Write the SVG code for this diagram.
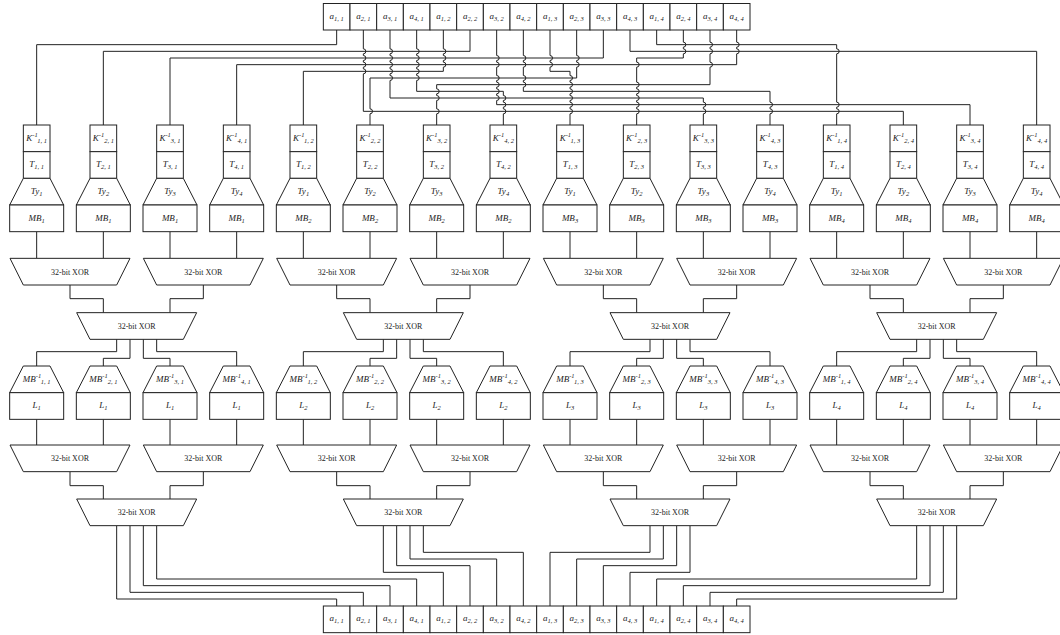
<svg xmlns="http://www.w3.org/2000/svg" width="1060" height="635" viewBox="0 0 1060 635">
<style>
.n{fill:#fff;stroke:#222;stroke-width:1}
.w{fill:none;stroke:#222;stroke-width:1}
.t{font-family:"Liberation Serif",serif;font-size:9px;font-style:italic;text-anchor:middle;fill:#222}
.s{font-size:6.5px}
.x{font-family:"Liberation Serif",serif;font-size:8px;text-anchor:middle;fill:#222}
</style>
<rect width="1060" height="635" fill="#fff"/>
<g id="connectors" class="w">
<!-- top routing -->
<path d="M336.67,30V44.67H36.67V125"/>
<path d="M470,30V51.33H103.33V125"/>
<path d="M603.33,30V58H170V125"/>
<path d="M736.67,30V42.17a2.5,2.5 0 0 1 0,5V48.83a2.5,2.5 0 0 1 0,5V64.67H236.67V125"/>
<path d="M443.33,30V48.83a2.5,2.5 0 0 1 0,5V55.5a2.5,2.5 0 0 1 0,5V62.17a2.5,2.5 0 0 1 0,5V71.33H303.33V125"/>
<path d="M576.67,30V55.5a2.5,2.5 0 0 1 0,5V62.17a2.5,2.5 0 0 1 0,5V78H370V108.83a2.5,2.5 0 0 1 0,5V125"/>
<path d="M710,30V42.17a2.5,2.5 0 0 1 0,5V48.83a2.5,2.5 0 0 1 0,5V62.17a2.5,2.5 0 0 1 0,5V84.67H436.67V88.83a2.5,2.5 0 0 1 0,5V95.5a2.5,2.5 0 0 1 0,5V108.83a2.5,2.5 0 0 1 0,5V125"/>
<path d="M416.67,30V48.83a2.5,2.5 0 0 1 0,5V55.5a2.5,2.5 0 0 1 0,5V62.17a2.5,2.5 0 0 1 0,5V68.83a2.5,2.5 0 0 1 0,5V75.5a2.5,2.5 0 0 1 0,5V91.33H503.33V95.5a2.5,2.5 0 0 1 0,5V102.17a2.5,2.5 0 0 1 0,5V108.83a2.5,2.5 0 0 1 0,5V125"/>
<path d="M550,30V55.5a2.5,2.5 0 0 1 0,5V62.17a2.5,2.5 0 0 1 0,5V71.33H570V75.5a2.5,2.5 0 0 1 0,5V82.17a2.5,2.5 0 0 1 0,5V88.83a2.5,2.5 0 0 1 0,5V95.5a2.5,2.5 0 0 1 0,5V102.17a2.5,2.5 0 0 1 0,5V108.83a2.5,2.5 0 0 1 0,5V125"/>
<path d="M683.33,30V42.17a2.5,2.5 0 0 1 0,5V48.83a2.5,2.5 0 0 1 0,5V58H636.67V62.17a2.5,2.5 0 0 1 0,5V82.17a2.5,2.5 0 0 1 0,5V88.83a2.5,2.5 0 0 1 0,5V95.5a2.5,2.5 0 0 1 0,5V102.17a2.5,2.5 0 0 1 0,5V108.83a2.5,2.5 0 0 1 0,5V125"/>
<path d="M390,30V48.83a2.5,2.5 0 0 1 0,5V55.5a2.5,2.5 0 0 1 0,5V62.17a2.5,2.5 0 0 1 0,5V68.83a2.5,2.5 0 0 1 0,5V75.5a2.5,2.5 0 0 1 0,5V98H703.33V102.17a2.5,2.5 0 0 1 0,5V108.83a2.5,2.5 0 0 1 0,5V125"/>
<path d="M523.33,30V55.5a2.5,2.5 0 0 1 0,5V62.17a2.5,2.5 0 0 1 0,5V75.5a2.5,2.5 0 0 1 0,5V82.17a2.5,2.5 0 0 1 0,5V91.33H770V102.17a2.5,2.5 0 0 1 0,5V108.83a2.5,2.5 0 0 1 0,5V125"/>
<path d="M656.67,30V44.67H836.67V48.83a2.5,2.5 0 0 1 0,5V102.17a2.5,2.5 0 0 1 0,5V108.83a2.5,2.5 0 0 1 0,5V125"/>
<path d="M363.33,30V48.83a2.5,2.5 0 0 1 0,5V55.5a2.5,2.5 0 0 1 0,5V62.17a2.5,2.5 0 0 1 0,5V68.83a2.5,2.5 0 0 1 0,5V111.33H903.33V125"/>
<path d="M496.67,30V55.5a2.5,2.5 0 0 1 0,5V62.17a2.5,2.5 0 0 1 0,5V75.5a2.5,2.5 0 0 1 0,5V82.17a2.5,2.5 0 0 1 0,5V88.83a2.5,2.5 0 0 1 0,5V95.5a2.5,2.5 0 0 1 0,5V104.67H970V125"/>
<path d="M630,30V51.33H1036.67V125"/>
<!-- MB to XOR1 -->
<path d="M36.67,231.67V258.33M103.33,231.67V258.33M170,231.67V258.33M236.67,231.67V258.33M303.33,231.67V258.33M370,231.67V258.33M436.67,231.67V258.33M503.33,231.67V258.33M570,231.67V258.33M636.67,231.67V258.33M703.33,231.67V258.33M770,231.67V258.33M836.67,231.67V258.33M903.33,231.67V258.33M970,231.67V258.33M1036.67,231.67V258.33"/>
<!-- XOR1 to XOR2 -->
<path d="M70,285V298.67H103.33V312.67M203.33,285V298.67H170V312.67M336.67,285V298.67H370V312.67M470,285V298.67H436.67V312.67M603.33,285V298.67H636.67V312.67M736.67,285V298.67H703.33V312.67M870,285V298.67H903.33V312.67M1003.33,285V298.67H970V312.67"/>
<!-- XOR2 to MB^-1 -->
<path d="M116.67,339.33V351.67H36.67V366M130,339.33V358.33H103.33V366M143.33,339.33V358.33H170V366M156.67,339.33V351.67H236.67V366"/>
<path d="M383.33,339.33V351.67H303.33V366M396.67,339.33V358.33H370V366M410,339.33V358.33H436.67V366M423.33,339.33V351.67H503.33V366"/>
<path d="M650,339.33V351.67H570V366M663.33,339.33V358.33H636.67V366M676.67,339.33V358.33H703.33V366M690,339.33V351.67H770V366"/>
<path d="M916.67,339.33V351.67H836.67V366M930,339.33V358.33H903.33V366M943.33,339.33V358.33H970V366M956.67,339.33V351.67H1036.67V366"/>
<!-- L to XOR3 -->
<path d="M36.67,419.33V445M103.33,419.33V445M170,419.33V445M236.67,419.33V445M303.33,419.33V445M370,419.33V445M436.67,419.33V445M503.33,419.33V445M570,419.33V445M636.67,419.33V445M703.33,419.33V445M770,419.33V445M836.67,419.33V445M903.33,419.33V445M970,419.33V445M1036.67,419.33V445"/>
<!-- XOR3 to XOR4 -->
<path d="M70,471.67V485.67H103.33V499M203.33,471.67V485.67H170V499M336.67,471.67V485.67H370V499M470,471.67V485.67H436.67V499M603.33,471.67V485.67H636.67V499M736.67,471.67V485.67H703.33V499M870,471.67V485.67H903.33V499M1003.33,471.67V485.67H970V499"/>
<!-- XOR4 to output row -->
<path d="M116.67,525.67V599H336.67V606M130,525.67V592.33H363.33V606M143.33,525.67V585.67H390V606M156.67,525.67V579H416.67V606"/>
<path d="M383.33,525.67V572.33H443.33V606M396.67,525.67V565.67H470V606M410,525.67V559H496.67V606M423.33,525.67V552.33H523.33V606"/>
<path d="M650,525.67V552.33H550V606M663.33,525.67V559H576.67V606M676.67,525.67V565.67H603.33V606M690,525.67V572.33H630V606"/>
<path d="M916.67,525.67V579H656.67V606M930,525.67V585.67H683.33V606M943.33,525.67V592.33H710V606M956.67,525.67V599H736.67V606"/>
</g>

<!-- input row -->
<g id="in-a11" transform="translate(336.67 0)"><rect class="n" x="-13.33" y="3.5" width="26.67" height="26.5"/><text class="t" y="18.5">a<tspan class="s" dy="2">1, 1</tspan></text></g>
<g id="in-a21" transform="translate(363.33 0)"><rect class="n" x="-13.33" y="3.5" width="26.67" height="26.5"/><text class="t" y="18.5">a<tspan class="s" dy="2">2, 1</tspan></text></g>
<g id="in-a31" transform="translate(390 0)"><rect class="n" x="-13.33" y="3.5" width="26.67" height="26.5"/><text class="t" y="18.5">a<tspan class="s" dy="2">3, 1</tspan></text></g>
<g id="in-a41" transform="translate(416.67 0)"><rect class="n" x="-13.33" y="3.5" width="26.67" height="26.5"/><text class="t" y="18.5">a<tspan class="s" dy="2">4, 1</tspan></text></g>
<g id="in-a12" transform="translate(443.33 0)"><rect class="n" x="-13.33" y="3.5" width="26.67" height="26.5"/><text class="t" y="18.5">a<tspan class="s" dy="2">1, 2</tspan></text></g>
<g id="in-a22" transform="translate(470 0)"><rect class="n" x="-13.33" y="3.5" width="26.67" height="26.5"/><text class="t" y="18.5">a<tspan class="s" dy="2">2, 2</tspan></text></g>
<g id="in-a32" transform="translate(496.67 0)"><rect class="n" x="-13.33" y="3.5" width="26.67" height="26.5"/><text class="t" y="18.5">a<tspan class="s" dy="2">3, 2</tspan></text></g>
<g id="in-a42" transform="translate(523.33 0)"><rect class="n" x="-13.33" y="3.5" width="26.67" height="26.5"/><text class="t" y="18.5">a<tspan class="s" dy="2">4, 2</tspan></text></g>
<g id="in-a13" transform="translate(550 0)"><rect class="n" x="-13.33" y="3.5" width="26.67" height="26.5"/><text class="t" y="18.5">a<tspan class="s" dy="2">1, 3</tspan></text></g>
<g id="in-a23" transform="translate(576.67 0)"><rect class="n" x="-13.33" y="3.5" width="26.67" height="26.5"/><text class="t" y="18.5">a<tspan class="s" dy="2">2, 3</tspan></text></g>
<g id="in-a33" transform="translate(603.33 0)"><rect class="n" x="-13.33" y="3.5" width="26.67" height="26.5"/><text class="t" y="18.5">a<tspan class="s" dy="2">3, 3</tspan></text></g>
<g id="in-a43" transform="translate(630 0)"><rect class="n" x="-13.33" y="3.5" width="26.67" height="26.5"/><text class="t" y="18.5">a<tspan class="s" dy="2">4, 3</tspan></text></g>
<g id="in-a14" transform="translate(656.67 0)"><rect class="n" x="-13.33" y="3.5" width="26.67" height="26.5"/><text class="t" y="18.5">a<tspan class="s" dy="2">1, 4</tspan></text></g>
<g id="in-a24" transform="translate(683.33 0)"><rect class="n" x="-13.33" y="3.5" width="26.67" height="26.5"/><text class="t" y="18.5">a<tspan class="s" dy="2">2, 4</tspan></text></g>
<g id="in-a34" transform="translate(710 0)"><rect class="n" x="-13.33" y="3.5" width="26.67" height="26.5"/><text class="t" y="18.5">a<tspan class="s" dy="2">3, 4</tspan></text></g>
<g id="in-a44" transform="translate(736.67 0)"><rect class="n" x="-13.33" y="3.5" width="26.67" height="26.5"/><text class="t" y="18.5">a<tspan class="s" dy="2">4, 4</tspan></text></g>

<!-- upper stacks: K^-1, T, Ty, MB -->
<g id="dec-11" transform="translate(36.67 0)"><rect class="n" x="-13.33" y="125" width="26.67" height="26.67"/><rect class="n" x="-13.33" y="151.67" width="26.67" height="26.67"/><path class="n" d="M-13.33,178.33H13.33L27,205H-27Z"/><rect class="n" x="-27" y="205" width="54" height="26.67"/><text class="t" y="140.5">K<tspan class="s" dy="-3.5">-1</tspan><tspan class="s" dy="6">1, 1</tspan></text><text class="t" y="167">T<tspan class="s" dy="2">1, 1</tspan></text><text class="t" y="194">Ty<tspan class="s" dy="2">1</tspan></text><text class="t" y="220.5">MB<tspan class="s" dy="2">1</tspan></text></g>
<g id="dec-21" transform="translate(103.33 0)"><rect class="n" x="-13.33" y="125" width="26.67" height="26.67"/><rect class="n" x="-13.33" y="151.67" width="26.67" height="26.67"/><path class="n" d="M-13.33,178.33H13.33L27,205H-27Z"/><rect class="n" x="-27" y="205" width="54" height="26.67"/><text class="t" y="140.5">K<tspan class="s" dy="-3.5">-1</tspan><tspan class="s" dy="6">2, 1</tspan></text><text class="t" y="167">T<tspan class="s" dy="2">2, 1</tspan></text><text class="t" y="194">Ty<tspan class="s" dy="2">2</tspan></text><text class="t" y="220.5">MB<tspan class="s" dy="2">1</tspan></text></g>
<g id="dec-31" transform="translate(170 0)"><rect class="n" x="-13.33" y="125" width="26.67" height="26.67"/><rect class="n" x="-13.33" y="151.67" width="26.67" height="26.67"/><path class="n" d="M-13.33,178.33H13.33L27,205H-27Z"/><rect class="n" x="-27" y="205" width="54" height="26.67"/><text class="t" y="140.5">K<tspan class="s" dy="-3.5">-1</tspan><tspan class="s" dy="6">3, 1</tspan></text><text class="t" y="167">T<tspan class="s" dy="2">3, 1</tspan></text><text class="t" y="194">Ty<tspan class="s" dy="2">3</tspan></text><text class="t" y="220.5">MB<tspan class="s" dy="2">1</tspan></text></g>
<g id="dec-41" transform="translate(236.67 0)"><rect class="n" x="-13.33" y="125" width="26.67" height="26.67"/><rect class="n" x="-13.33" y="151.67" width="26.67" height="26.67"/><path class="n" d="M-13.33,178.33H13.33L27,205H-27Z"/><rect class="n" x="-27" y="205" width="54" height="26.67"/><text class="t" y="140.5">K<tspan class="s" dy="-3.5">-1</tspan><tspan class="s" dy="6">4, 1</tspan></text><text class="t" y="167">T<tspan class="s" dy="2">4, 1</tspan></text><text class="t" y="194">Ty<tspan class="s" dy="2">4</tspan></text><text class="t" y="220.5">MB<tspan class="s" dy="2">1</tspan></text></g>
<g id="dec-12" transform="translate(303.33 0)"><rect class="n" x="-13.33" y="125" width="26.67" height="26.67"/><rect class="n" x="-13.33" y="151.67" width="26.67" height="26.67"/><path class="n" d="M-13.33,178.33H13.33L27,205H-27Z"/><rect class="n" x="-27" y="205" width="54" height="26.67"/><text class="t" y="140.5">K<tspan class="s" dy="-3.5">-1</tspan><tspan class="s" dy="6">1, 2</tspan></text><text class="t" y="167">T<tspan class="s" dy="2">1, 2</tspan></text><text class="t" y="194">Ty<tspan class="s" dy="2">1</tspan></text><text class="t" y="220.5">MB<tspan class="s" dy="2">2</tspan></text></g>
<g id="dec-22" transform="translate(370 0)"><rect class="n" x="-13.33" y="125" width="26.67" height="26.67"/><rect class="n" x="-13.33" y="151.67" width="26.67" height="26.67"/><path class="n" d="M-13.33,178.33H13.33L27,205H-27Z"/><rect class="n" x="-27" y="205" width="54" height="26.67"/><text class="t" y="140.5">K<tspan class="s" dy="-3.5">-1</tspan><tspan class="s" dy="6">2, 2</tspan></text><text class="t" y="167">T<tspan class="s" dy="2">2, 2</tspan></text><text class="t" y="194">Ty<tspan class="s" dy="2">2</tspan></text><text class="t" y="220.5">MB<tspan class="s" dy="2">2</tspan></text></g>
<g id="dec-32" transform="translate(436.67 0)"><rect class="n" x="-13.33" y="125" width="26.67" height="26.67"/><rect class="n" x="-13.33" y="151.67" width="26.67" height="26.67"/><path class="n" d="M-13.33,178.33H13.33L27,205H-27Z"/><rect class="n" x="-27" y="205" width="54" height="26.67"/><text class="t" y="140.5">K<tspan class="s" dy="-3.5">-1</tspan><tspan class="s" dy="6">3, 2</tspan></text><text class="t" y="167">T<tspan class="s" dy="2">3, 2</tspan></text><text class="t" y="194">Ty<tspan class="s" dy="2">3</tspan></text><text class="t" y="220.5">MB<tspan class="s" dy="2">2</tspan></text></g>
<g id="dec-42" transform="translate(503.33 0)"><rect class="n" x="-13.33" y="125" width="26.67" height="26.67"/><rect class="n" x="-13.33" y="151.67" width="26.67" height="26.67"/><path class="n" d="M-13.33,178.33H13.33L27,205H-27Z"/><rect class="n" x="-27" y="205" width="54" height="26.67"/><text class="t" y="140.5">K<tspan class="s" dy="-3.5">-1</tspan><tspan class="s" dy="6">4, 2</tspan></text><text class="t" y="167">T<tspan class="s" dy="2">4, 2</tspan></text><text class="t" y="194">Ty<tspan class="s" dy="2">4</tspan></text><text class="t" y="220.5">MB<tspan class="s" dy="2">2</tspan></text></g>
<g id="dec-13" transform="translate(570 0)"><rect class="n" x="-13.33" y="125" width="26.67" height="26.67"/><rect class="n" x="-13.33" y="151.67" width="26.67" height="26.67"/><path class="n" d="M-13.33,178.33H13.33L27,205H-27Z"/><rect class="n" x="-27" y="205" width="54" height="26.67"/><text class="t" y="140.5">K<tspan class="s" dy="-3.5">-1</tspan><tspan class="s" dy="6">1, 3</tspan></text><text class="t" y="167">T<tspan class="s" dy="2">1, 3</tspan></text><text class="t" y="194">Ty<tspan class="s" dy="2">1</tspan></text><text class="t" y="220.5">MB<tspan class="s" dy="2">3</tspan></text></g>
<g id="dec-23" transform="translate(636.67 0)"><rect class="n" x="-13.33" y="125" width="26.67" height="26.67"/><rect class="n" x="-13.33" y="151.67" width="26.67" height="26.67"/><path class="n" d="M-13.33,178.33H13.33L27,205H-27Z"/><rect class="n" x="-27" y="205" width="54" height="26.67"/><text class="t" y="140.5">K<tspan class="s" dy="-3.5">-1</tspan><tspan class="s" dy="6">2, 3</tspan></text><text class="t" y="167">T<tspan class="s" dy="2">2, 3</tspan></text><text class="t" y="194">Ty<tspan class="s" dy="2">2</tspan></text><text class="t" y="220.5">MB<tspan class="s" dy="2">3</tspan></text></g>
<g id="dec-33" transform="translate(703.33 0)"><rect class="n" x="-13.33" y="125" width="26.67" height="26.67"/><rect class="n" x="-13.33" y="151.67" width="26.67" height="26.67"/><path class="n" d="M-13.33,178.33H13.33L27,205H-27Z"/><rect class="n" x="-27" y="205" width="54" height="26.67"/><text class="t" y="140.5">K<tspan class="s" dy="-3.5">-1</tspan><tspan class="s" dy="6">3, 3</tspan></text><text class="t" y="167">T<tspan class="s" dy="2">3, 3</tspan></text><text class="t" y="194">Ty<tspan class="s" dy="2">3</tspan></text><text class="t" y="220.5">MB<tspan class="s" dy="2">3</tspan></text></g>
<g id="dec-43" transform="translate(770 0)"><rect class="n" x="-13.33" y="125" width="26.67" height="26.67"/><rect class="n" x="-13.33" y="151.67" width="26.67" height="26.67"/><path class="n" d="M-13.33,178.33H13.33L27,205H-27Z"/><rect class="n" x="-27" y="205" width="54" height="26.67"/><text class="t" y="140.5">K<tspan class="s" dy="-3.5">-1</tspan><tspan class="s" dy="6">4, 3</tspan></text><text class="t" y="167">T<tspan class="s" dy="2">4, 3</tspan></text><text class="t" y="194">Ty<tspan class="s" dy="2">4</tspan></text><text class="t" y="220.5">MB<tspan class="s" dy="2">3</tspan></text></g>
<g id="dec-14" transform="translate(836.67 0)"><rect class="n" x="-13.33" y="125" width="26.67" height="26.67"/><rect class="n" x="-13.33" y="151.67" width="26.67" height="26.67"/><path class="n" d="M-13.33,178.33H13.33L27,205H-27Z"/><rect class="n" x="-27" y="205" width="54" height="26.67"/><text class="t" y="140.5">K<tspan class="s" dy="-3.5">-1</tspan><tspan class="s" dy="6">1, 4</tspan></text><text class="t" y="167">T<tspan class="s" dy="2">1, 4</tspan></text><text class="t" y="194">Ty<tspan class="s" dy="2">1</tspan></text><text class="t" y="220.5">MB<tspan class="s" dy="2">4</tspan></text></g>
<g id="dec-24" transform="translate(903.33 0)"><rect class="n" x="-13.33" y="125" width="26.67" height="26.67"/><rect class="n" x="-13.33" y="151.67" width="26.67" height="26.67"/><path class="n" d="M-13.33,178.33H13.33L27,205H-27Z"/><rect class="n" x="-27" y="205" width="54" height="26.67"/><text class="t" y="140.5">K<tspan class="s" dy="-3.5">-1</tspan><tspan class="s" dy="6">2, 4</tspan></text><text class="t" y="167">T<tspan class="s" dy="2">2, 4</tspan></text><text class="t" y="194">Ty<tspan class="s" dy="2">2</tspan></text><text class="t" y="220.5">MB<tspan class="s" dy="2">4</tspan></text></g>
<g id="dec-34" transform="translate(970 0)"><rect class="n" x="-13.33" y="125" width="26.67" height="26.67"/><rect class="n" x="-13.33" y="151.67" width="26.67" height="26.67"/><path class="n" d="M-13.33,178.33H13.33L27,205H-27Z"/><rect class="n" x="-27" y="205" width="54" height="26.67"/><text class="t" y="140.5">K<tspan class="s" dy="-3.5">-1</tspan><tspan class="s" dy="6">3, 4</tspan></text><text class="t" y="167">T<tspan class="s" dy="2">3, 4</tspan></text><text class="t" y="194">Ty<tspan class="s" dy="2">3</tspan></text><text class="t" y="220.5">MB<tspan class="s" dy="2">4</tspan></text></g>
<g id="dec-44" transform="translate(1036.67 0)"><rect class="n" x="-13.33" y="125" width="26.67" height="26.67"/><rect class="n" x="-13.33" y="151.67" width="26.67" height="26.67"/><path class="n" d="M-13.33,178.33H13.33L27,205H-27Z"/><rect class="n" x="-27" y="205" width="54" height="26.67"/><text class="t" y="140.5">K<tspan class="s" dy="-3.5">-1</tspan><tspan class="s" dy="6">4, 4</tspan></text><text class="t" y="167">T<tspan class="s" dy="2">4, 4</tspan></text><text class="t" y="194">Ty<tspan class="s" dy="2">4</tspan></text><text class="t" y="220.5">MB<tspan class="s" dy="2">4</tspan></text></g>

<!-- XOR level 1 -->
<g id="xor1-1"><path class="n" d="M10,258.33H130L116.67,285H23.33Z"/><text class="x" x="70" y="274.5">32-bit XOR</text></g>
<g id="xor1-2"><path class="n" d="M143.33,258.33H263.33L250,285H156.67Z"/><text class="x" x="203.33" y="274.5">32-bit XOR</text></g>
<g id="xor1-3"><path class="n" d="M276.67,258.33H396.67L383.33,285H290Z"/><text class="x" x="336.67" y="274.5">32-bit XOR</text></g>
<g id="xor1-4"><path class="n" d="M410,258.33H530L516.67,285H423.33Z"/><text class="x" x="470" y="274.5">32-bit XOR</text></g>
<g id="xor1-5"><path class="n" d="M543.33,258.33H663.33L650,285H556.67Z"/><text class="x" x="603.33" y="274.5">32-bit XOR</text></g>
<g id="xor1-6"><path class="n" d="M676.67,258.33H796.67L783.33,285H690Z"/><text class="x" x="736.67" y="274.5">32-bit XOR</text></g>
<g id="xor1-7"><path class="n" d="M810,258.33H930L916.67,285H823.33Z"/><text class="x" x="870" y="274.5">32-bit XOR</text></g>
<g id="xor1-8"><path class="n" d="M943.33,258.33H1063.33L1050,285H956.67Z"/><text class="x" x="1003.33" y="274.5">32-bit XOR</text></g>
<!-- XOR level 2 -->
<g id="xor2-1"><path class="n" d="M76.67,312.67H196.67L183.33,339.33H90Z"/><text class="x" x="136.67" y="328.8">32-bit XOR</text></g>
<g id="xor2-2"><path class="n" d="M343.33,312.67H463.33L450,339.33H356.67Z"/><text class="x" x="403.33" y="328.8">32-bit XOR</text></g>
<g id="xor2-3"><path class="n" d="M610,312.67H730L716.67,339.33H623.33Z"/><text class="x" x="670" y="328.8">32-bit XOR</text></g>
<g id="xor2-4"><path class="n" d="M876.67,312.67H996.67L983.33,339.33H890Z"/><text class="x" x="936.67" y="328.8">32-bit XOR</text></g>

<!-- lower stacks: MB^-1, L -->
<g id="inv-11" transform="translate(36.67 0)"><path class="n" d="M-13.33,366H13.33L27,392.67H-27Z"/><rect class="n" x="-27" y="392.67" width="54" height="26.67"/><text class="t" y="381.5">MB<tspan class="s" dy="-3.5">-1</tspan><tspan class="s" dy="6">1, 1</tspan></text><text class="t" y="408">L<tspan class="s" dy="2">1</tspan></text></g>
<g id="inv-21" transform="translate(103.33 0)"><path class="n" d="M-13.33,366H13.33L27,392.67H-27Z"/><rect class="n" x="-27" y="392.67" width="54" height="26.67"/><text class="t" y="381.5">MB<tspan class="s" dy="-3.5">-1</tspan><tspan class="s" dy="6">2, 1</tspan></text><text class="t" y="408">L<tspan class="s" dy="2">1</tspan></text></g>
<g id="inv-31" transform="translate(170 0)"><path class="n" d="M-13.33,366H13.33L27,392.67H-27Z"/><rect class="n" x="-27" y="392.67" width="54" height="26.67"/><text class="t" y="381.5">MB<tspan class="s" dy="-3.5">-1</tspan><tspan class="s" dy="6">3, 1</tspan></text><text class="t" y="408">L<tspan class="s" dy="2">1</tspan></text></g>
<g id="inv-41" transform="translate(236.67 0)"><path class="n" d="M-13.33,366H13.33L27,392.67H-27Z"/><rect class="n" x="-27" y="392.67" width="54" height="26.67"/><text class="t" y="381.5">MB<tspan class="s" dy="-3.5">-1</tspan><tspan class="s" dy="6">4, 1</tspan></text><text class="t" y="408">L<tspan class="s" dy="2">1</tspan></text></g>
<g id="inv-12" transform="translate(303.33 0)"><path class="n" d="M-13.33,366H13.33L27,392.67H-27Z"/><rect class="n" x="-27" y="392.67" width="54" height="26.67"/><text class="t" y="381.5">MB<tspan class="s" dy="-3.5">-1</tspan><tspan class="s" dy="6">1, 2</tspan></text><text class="t" y="408">L<tspan class="s" dy="2">2</tspan></text></g>
<g id="inv-22" transform="translate(370 0)"><path class="n" d="M-13.33,366H13.33L27,392.67H-27Z"/><rect class="n" x="-27" y="392.67" width="54" height="26.67"/><text class="t" y="381.5">MB<tspan class="s" dy="-3.5">-1</tspan><tspan class="s" dy="6">2, 2</tspan></text><text class="t" y="408">L<tspan class="s" dy="2">2</tspan></text></g>
<g id="inv-32" transform="translate(436.67 0)"><path class="n" d="M-13.33,366H13.33L27,392.67H-27Z"/><rect class="n" x="-27" y="392.67" width="54" height="26.67"/><text class="t" y="381.5">MB<tspan class="s" dy="-3.5">-1</tspan><tspan class="s" dy="6">3, 2</tspan></text><text class="t" y="408">L<tspan class="s" dy="2">2</tspan></text></g>
<g id="inv-42" transform="translate(503.33 0)"><path class="n" d="M-13.33,366H13.33L27,392.67H-27Z"/><rect class="n" x="-27" y="392.67" width="54" height="26.67"/><text class="t" y="381.5">MB<tspan class="s" dy="-3.5">-1</tspan><tspan class="s" dy="6">4, 2</tspan></text><text class="t" y="408">L<tspan class="s" dy="2">2</tspan></text></g>
<g id="inv-13" transform="translate(570 0)"><path class="n" d="M-13.33,366H13.33L27,392.67H-27Z"/><rect class="n" x="-27" y="392.67" width="54" height="26.67"/><text class="t" y="381.5">MB<tspan class="s" dy="-3.5">-1</tspan><tspan class="s" dy="6">1, 3</tspan></text><text class="t" y="408">L<tspan class="s" dy="2">3</tspan></text></g>
<g id="inv-23" transform="translate(636.67 0)"><path class="n" d="M-13.33,366H13.33L27,392.67H-27Z"/><rect class="n" x="-27" y="392.67" width="54" height="26.67"/><text class="t" y="381.5">MB<tspan class="s" dy="-3.5">-1</tspan><tspan class="s" dy="6">2, 3</tspan></text><text class="t" y="408">L<tspan class="s" dy="2">3</tspan></text></g>
<g id="inv-33" transform="translate(703.33 0)"><path class="n" d="M-13.33,366H13.33L27,392.67H-27Z"/><rect class="n" x="-27" y="392.67" width="54" height="26.67"/><text class="t" y="381.5">MB<tspan class="s" dy="-3.5">-1</tspan><tspan class="s" dy="6">3, 3</tspan></text><text class="t" y="408">L<tspan class="s" dy="2">3</tspan></text></g>
<g id="inv-43" transform="translate(770 0)"><path class="n" d="M-13.33,366H13.33L27,392.67H-27Z"/><rect class="n" x="-27" y="392.67" width="54" height="26.67"/><text class="t" y="381.5">MB<tspan class="s" dy="-3.5">-1</tspan><tspan class="s" dy="6">4, 3</tspan></text><text class="t" y="408">L<tspan class="s" dy="2">3</tspan></text></g>
<g id="inv-14" transform="translate(836.67 0)"><path class="n" d="M-13.33,366H13.33L27,392.67H-27Z"/><rect class="n" x="-27" y="392.67" width="54" height="26.67"/><text class="t" y="381.5">MB<tspan class="s" dy="-3.5">-1</tspan><tspan class="s" dy="6">1, 4</tspan></text><text class="t" y="408">L<tspan class="s" dy="2">4</tspan></text></g>
<g id="inv-24" transform="translate(903.33 0)"><path class="n" d="M-13.33,366H13.33L27,392.67H-27Z"/><rect class="n" x="-27" y="392.67" width="54" height="26.67"/><text class="t" y="381.5">MB<tspan class="s" dy="-3.5">-1</tspan><tspan class="s" dy="6">2, 4</tspan></text><text class="t" y="408">L<tspan class="s" dy="2">4</tspan></text></g>
<g id="inv-34" transform="translate(970 0)"><path class="n" d="M-13.33,366H13.33L27,392.67H-27Z"/><rect class="n" x="-27" y="392.67" width="54" height="26.67"/><text class="t" y="381.5">MB<tspan class="s" dy="-3.5">-1</tspan><tspan class="s" dy="6">3, 4</tspan></text><text class="t" y="408">L<tspan class="s" dy="2">4</tspan></text></g>
<g id="inv-44" transform="translate(1036.67 0)"><path class="n" d="M-13.33,366H13.33L27,392.67H-27Z"/><rect class="n" x="-27" y="392.67" width="54" height="26.67"/><text class="t" y="381.5">MB<tspan class="s" dy="-3.5">-1</tspan><tspan class="s" dy="6">4, 4</tspan></text><text class="t" y="408">L<tspan class="s" dy="2">4</tspan></text></g>

<!-- XOR level 3 -->
<g id="xor3-1"><path class="n" d="M10,445H130L116.67,471.67H23.33Z"/><text class="x" x="70" y="461">32-bit XOR</text></g>
<g id="xor3-2"><path class="n" d="M143.33,445H263.33L250,471.67H156.67Z"/><text class="x" x="203.33" y="461">32-bit XOR</text></g>
<g id="xor3-3"><path class="n" d="M276.67,445H396.67L383.33,471.67H290Z"/><text class="x" x="336.67" y="461">32-bit XOR</text></g>
<g id="xor3-4"><path class="n" d="M410,445H530L516.67,471.67H423.33Z"/><text class="x" x="470" y="461">32-bit XOR</text></g>
<g id="xor3-5"><path class="n" d="M543.33,445H663.33L650,471.67H556.67Z"/><text class="x" x="603.33" y="461">32-bit XOR</text></g>
<g id="xor3-6"><path class="n" d="M676.67,445H796.67L783.33,471.67H690Z"/><text class="x" x="736.67" y="461">32-bit XOR</text></g>
<g id="xor3-7"><path class="n" d="M810,445H930L916.67,471.67H823.33Z"/><text class="x" x="870" y="461">32-bit XOR</text></g>
<g id="xor3-8"><path class="n" d="M943.33,445H1063.33L1050,471.67H956.67Z"/><text class="x" x="1003.33" y="461">32-bit XOR</text></g>
<!-- XOR level 4 -->
<g id="xor4-1"><path class="n" d="M76.67,499H196.67L183.33,525.67H90Z"/><text class="x" x="136.67" y="515.3">32-bit XOR</text></g>
<g id="xor4-2"><path class="n" d="M343.33,499H463.33L450,525.67H356.67Z"/><text class="x" x="403.33" y="515.3">32-bit XOR</text></g>
<g id="xor4-3"><path class="n" d="M610,499H730L716.67,525.67H623.33Z"/><text class="x" x="670" y="515.3">32-bit XOR</text></g>
<g id="xor4-4"><path class="n" d="M876.67,499H996.67L983.33,525.67H890Z"/><text class="x" x="936.67" y="515.3">32-bit XOR</text></g>

<!-- output row -->
<g id="out-a11" transform="translate(336.67 0)"><rect class="n" x="-13.33" y="606" width="26.67" height="26.67"/><text class="t" y="621">a<tspan class="s" dy="2">1, 1</tspan></text></g>
<g id="out-a21" transform="translate(363.33 0)"><rect class="n" x="-13.33" y="606" width="26.67" height="26.67"/><text class="t" y="621">a<tspan class="s" dy="2">2, 1</tspan></text></g>
<g id="out-a31" transform="translate(390 0)"><rect class="n" x="-13.33" y="606" width="26.67" height="26.67"/><text class="t" y="621">a<tspan class="s" dy="2">3, 1</tspan></text></g>
<g id="out-a41" transform="translate(416.67 0)"><rect class="n" x="-13.33" y="606" width="26.67" height="26.67"/><text class="t" y="621">a<tspan class="s" dy="2">4, 1</tspan></text></g>
<g id="out-a12" transform="translate(443.33 0)"><rect class="n" x="-13.33" y="606" width="26.67" height="26.67"/><text class="t" y="621">a<tspan class="s" dy="2">1, 2</tspan></text></g>
<g id="out-a22" transform="translate(470 0)"><rect class="n" x="-13.33" y="606" width="26.67" height="26.67"/><text class="t" y="621">a<tspan class="s" dy="2">2, 2</tspan></text></g>
<g id="out-a32" transform="translate(496.67 0)"><rect class="n" x="-13.33" y="606" width="26.67" height="26.67"/><text class="t" y="621">a<tspan class="s" dy="2">3, 2</tspan></text></g>
<g id="out-a42" transform="translate(523.33 0)"><rect class="n" x="-13.33" y="606" width="26.67" height="26.67"/><text class="t" y="621">a<tspan class="s" dy="2">4, 2</tspan></text></g>
<g id="out-a13" transform="translate(550 0)"><rect class="n" x="-13.33" y="606" width="26.67" height="26.67"/><text class="t" y="621">a<tspan class="s" dy="2">1, 3</tspan></text></g>
<g id="out-a23" transform="translate(576.67 0)"><rect class="n" x="-13.33" y="606" width="26.67" height="26.67"/><text class="t" y="621">a<tspan class="s" dy="2">2, 3</tspan></text></g>
<g id="out-a33" transform="translate(603.33 0)"><rect class="n" x="-13.33" y="606" width="26.67" height="26.67"/><text class="t" y="621">a<tspan class="s" dy="2">3, 3</tspan></text></g>
<g id="out-a43" transform="translate(630 0)"><rect class="n" x="-13.33" y="606" width="26.67" height="26.67"/><text class="t" y="621">a<tspan class="s" dy="2">4, 3</tspan></text></g>
<g id="out-a14" transform="translate(656.67 0)"><rect class="n" x="-13.33" y="606" width="26.67" height="26.67"/><text class="t" y="621">a<tspan class="s" dy="2">1, 4</tspan></text></g>
<g id="out-a24" transform="translate(683.33 0)"><rect class="n" x="-13.33" y="606" width="26.67" height="26.67"/><text class="t" y="621">a<tspan class="s" dy="2">2, 4</tspan></text></g>
<g id="out-a34" transform="translate(710 0)"><rect class="n" x="-13.33" y="606" width="26.67" height="26.67"/><text class="t" y="621">a<tspan class="s" dy="2">3, 4</tspan></text></g>
<g id="out-a44" transform="translate(736.67 0)"><rect class="n" x="-13.33" y="606" width="26.67" height="26.67"/><text class="t" y="621">a<tspan class="s" dy="2">4, 4</tspan></text></g>
</svg>
